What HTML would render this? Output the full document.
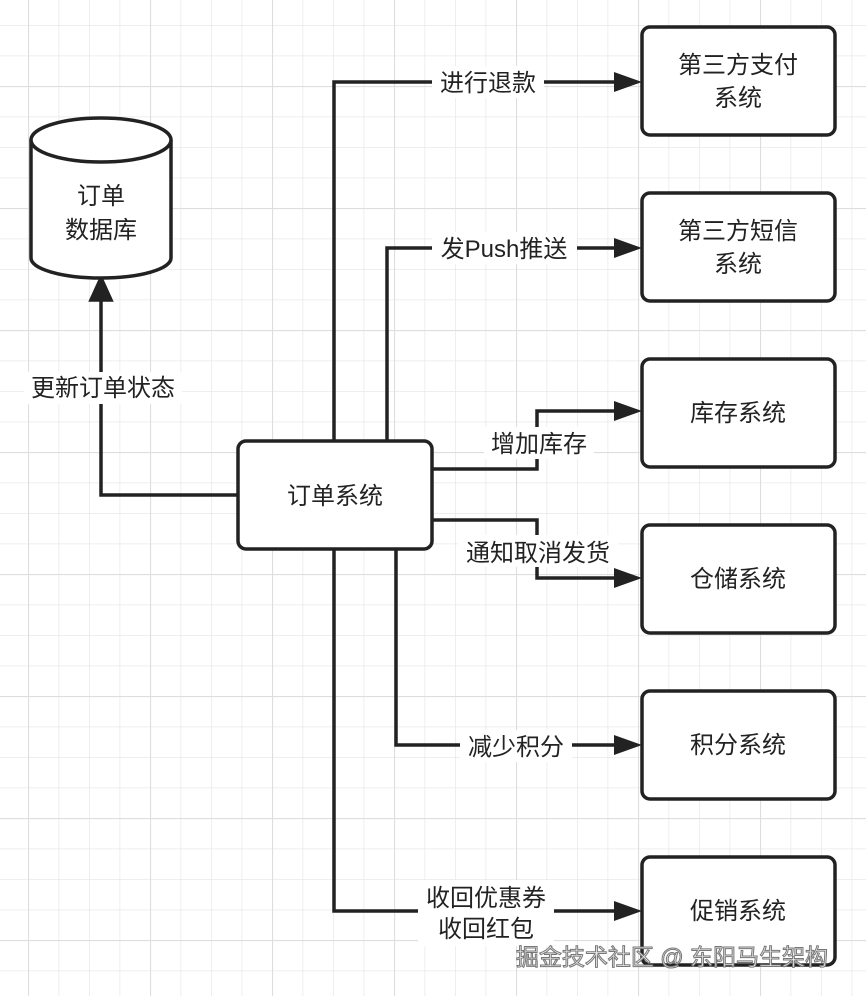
<!DOCTYPE html>
<html><head><meta charset="utf-8"><style>
html,body{margin:0;padding:0;background:#fff}
svg{display:block}
text{font-family:"Liberation Sans","Noto Sans CJK SC",sans-serif;font-size:24px;fill:#222}
</style></head><body>
<svg width="866" height="996" viewBox="0 0 866 996" xmlns="http://www.w3.org/2000/svg">
<defs>
<pattern id="minor" x="-2.5" y="25" width="30.5" height="30.5" patternUnits="userSpaceOnUse">
<path d="M0 0V30.5M0 0H30.5" stroke="#e8e8e8" stroke-width="1.5" fill="none"/>
</pattern>
<pattern id="major" x="28" y="86" width="122" height="122" patternUnits="userSpaceOnUse">
<path d="M0 0V122M0 0H122" stroke="#dedede" stroke-width="2.2" fill="none"/>
</pattern>
</defs>
<rect width="866" height="996" fill="#fff"/>
<rect width="866" height="996" fill="url(#minor)"/>
<rect width="866" height="996" fill="url(#major)"/>

<g stroke="#222" stroke-width="3.5" fill="none" stroke-linejoin="miter">
<path d="M238 495H101V285"/>
<path d="M91 300L101 278L111 300Z" fill="#222"/>
<path d="M334 441V82H620"/>
<path d="M387 441V248H620"/>
<path d="M432 469H537V411H620"/>
<path d="M432 520H537V578H620"/>
<path d="M396 549V745H620"/>
<path d="M334 549V911H620"/>
</g>
<g fill="#222">
<path d="M614 72L642 82L614 92Z"/>
<path d="M614 238L642 248L614 258Z"/>
<path d="M614 401L642 411L614 421Z"/>
<path d="M614 568L642 578L614 588Z"/>
<path d="M614 735L642 745L614 755Z"/>
<path d="M614 901L642 911L614 921Z"/>
</g>

<g fill="#fff" stroke="#222" stroke-width="3.5">
<path d="M31 140V258A70 20 0 0 0 171 258V140"/>
<ellipse cx="101" cy="140" rx="70" ry="22"/>
<rect x="238" y="441" width="194" height="108" rx="8"/>
<rect x="642" y="27" width="193" height="108" rx="8"/>
<rect x="642" y="193" width="193" height="108" rx="8"/>
<rect x="642" y="359" width="193" height="108" rx="8"/>
<rect x="642" y="525" width="193" height="108" rx="8"/>
<rect x="642" y="691" width="193" height="108" rx="8"/>
<rect x="642" y="857" width="193" height="108" rx="8"/>
</g>

<g fill="#fff">
<rect x="24" y="372" width="158" height="32"/>
<rect x="432" y="66" width="112" height="32"/>
<rect x="432" y="232" width="145" height="32"/>
<rect x="484" y="427" width="110" height="32"/>
<rect x="458" y="535" width="160" height="32"/>
<rect x="460" y="730" width="112" height="32"/>
<rect x="418" y="880" width="136" height="66"/>
</g>

<g text-anchor="middle">
<text x="101" y="204">订单</text>
<text x="101" y="238">数据库</text>
<text x="335" y="504">订单系统</text>
<text x="738" y="73">第三方支付</text>
<text x="738" y="106">系统</text>
<text x="738" y="239">第三方短信</text>
<text x="738" y="272">系统</text>
<text x="738" y="421">库存系统</text>
<text x="738" y="587">仓储系统</text>
<text x="738" y="753">积分系统</text>
<text x="738" y="919">促销系统</text>
<text x="103" y="396">更新订单状态</text>
<text x="488" y="91">进行退款</text>
<text x="504" y="257">发Push推送</text>
<text x="539" y="452">增加库存</text>
<text x="538" y="561">通知取消发货</text>
<text x="516" y="755">减少积分</text>
<text x="486" y="906">收回优惠券</text>
<text x="486" y="937">收回红包</text>
<text x="672" y="965" style="font-size:23px;fill:#eee;stroke:#777;stroke-width:1">掘金技术社区 @ 东阳马生架构</text>
</g>
</svg>
</body></html>
